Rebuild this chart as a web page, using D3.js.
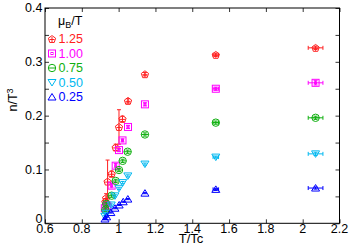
<!DOCTYPE html>
<html>
<head>
<meta charset="utf-8">
<script src="https://cdn.jsdelivr.net/npm/d3@7"></script>
<style>
  body { margin: 0; background: #fff; }
  text { font-family: "Liberation Sans", Arial, sans-serif; }
</style>
</head>
<body>
<div id="chart"></div>
<script>
// data
const muLabels = ["1.25", "1.00", "0.75", "0.50", "0.25"];
const xTicks = [0.6, 0.8, 1, 1.2, 1.4, 1.6, 1.8, 2, 2.2];
const yTicks = [0, 0.1, 0.2, 0.3, 0.4];

const tRed = [0.928, 0.932, 0.94, 0.962, 0.984, 1.002, 1.021, 1.051, 1.143, 1.528, 2.07];
const nRed = [0.040, 0.047, 0.0775, 0.092, 0.141, 0.179, 0.194, 0.2275, 0.277, 0.313, 0.326];
const eRed = [0.006, 0.008, 0.040, 0.005, 0.006, 0.032, 0.005, 0.004, 0.003, 0.003, 0.003];

const tMag = [0.925, 0.935, 0.94, 0.962, 0.984, 1.002, 1.021, 1.051, 1.143, 1.528, 2.07];
const nMag = [0.028, 0.033, 0.031, 0.070, 0.107, 0.136, 0.154, 0.179, 0.221, 0.250, 0.261];
const eMag = [0.003, 0.003, 0.004, 0.004, 0.004, 0.003, 0.003, 0.003, 0.003, 0.003, 0.004];

const tGrn = [0.928, 0.933, 0.962, 0.984, 1.002, 1.022, 1.049, 1.143, 1.528, 2.07];
const nGrn = [0.025, 0.036, 0.0513, 0.0787, 0.099, 0.116, 0.133, 0.165, 0.187, 0.196];
const eGrn = [0.003, 0.003, 0.003, 0.003, 0.003, 0.003, 0.003, 0.003, 0.003, 0.003];

const tCyn = [0.925, 0.933, 0.96, 0.98, 1.002, 1.022, 1.05, 1.143, 1.528, 2.07];
const nCyn = [0.013, 0.0186, 0.034, 0.051, 0.065, 0.0756, 0.088, 0.110, 0.123, 0.129];
const eCyn = [0.002, 0.002, 0.002, 0.002, 0.002, 0.002, 0.002, 0.002, 0.002, 0.003];

const tBlu = [0.926, 0.935, 0.958, 0.98, 1.003, 1.025, 1.05, 1.143, 1.528, 2.07];
const nBlu = [0.008, 0.012, 0.020, 0.028, 0.034, 0.040, 0.045, 0.056, 0.063, 0.0655];
const eBlu = [0.001, 0.001, 0.001, 0.001, 0.001, 0.001, 0.001, 0.001, 0.002, 0.002];

// horizontal error on the two high-T points
const tErrHigh = { 1.528: 0.015, 2.07: 0.04 };

const series = [
    { t: tRed, n: nRed, e: eRed, color: "#ff2020", shape: "pent" },
    { t: tMag, n: nMag, e: eMag, color: "#ff00ff", shape: "square" },
    { t: tGrn, n: nGrn, e: eGrn, color: "#10b010", shape: "circle" },
    { t: tCyn, n: nCyn, e: eCyn, color: "#00b8f0", shape: "down" },
    { t: tBlu, n: nBlu, e: eBlu, color: "#0000ff", shape: "up" }
];

let width = 350, height = 250;
let margin = { top: 8, right: 10.5, bottom: 26.7, left: 45 };

let svg = d3.select("#chart").append("svg")
    .attr("width", width)
    .attr("height", height);

let x = d3.scaleLinear().domain([0.6, 2.2]).range([margin.left, width - margin.right]);
let y = d3.scaleLinear().domain([0, 0.4]).range([height - margin.bottom, margin.top]);

// ticks, all pointing inward
let minorY = d3.range(0, 0.401, 0.05);
svg.append("g").attr("transform", "translate(" + margin.left + ",0)")
    .call(d3.axisRight(y).tickValues(minorY).tickSize(4).tickFormat(""));
svg.append("g").attr("transform", "translate(" + (width - margin.right) + ",0)")
    .call(d3.axisLeft(y).tickValues(minorY).tickSize(4).tickFormat(""));
svg.append("g").attr("transform", "translate(0," + margin.top + ")")
    .call(d3.axisBottom(x).tickValues(xTicks).tickSize(4).tickFormat(""));
svg.append("g").attr("transform", "translate(0," + (height - margin.bottom) + ")")
    .call(d3.axisTop(x).tickValues(xTicks).tickSize(4).tickFormat(""));
svg.selectAll(".domain").remove();
svg.selectAll(".tick line").attr("stroke", "#000").attr("stroke-width", 0.8);

svg.append("rect")
    .attr("x", margin.left).attr("y", margin.top)
    .attr("width", width - margin.left - margin.right)
    .attr("height", height - margin.top - margin.bottom)
    .attr("fill", "none").attr("stroke", "#000").attr("stroke-width", 1);

// tick labels
svg.append("g").selectAll("text")
    .data(xTicks)
    .enter().append("text")
    .attr("x", d => x(d))
    .attr("y", height - margin.bottom + 9.5)
    .attr("text-anchor", "middle")
    .style("font-size", "12.5px")
    .text(d => d);

svg.append("g").selectAll("text")
    .data(yTicks)
    .enter().append("text")
    .attr("x", margin.left - 2.5)
    .attr("y", d => y(d))
    .attr("dy", d => d === 0 ? "-0.05em" : "0.35em")
    .attr("text-anchor", "end")
    .style("font-size", "12.5px")
    .text(d => d);

svg.append("text")
    .attr("x", 191).attr("y", 242.5)
    .attr("text-anchor", "middle")
    .style("font-size", "13px")
    .text("T/Tc");

let yl = svg.append("text")
    .attr("transform", "translate(17,100) rotate(-90)")
    .attr("text-anchor", "middle")
    .style("font-size", "12.5px");
yl.append("tspan").text("n/T");
yl.append("tspan").attr("dy", -4).style("font-size", "9px").text("3");

function marker(g, shape, color) {
    g.attr("fill", "none").attr("stroke", color).attr("stroke-width", 1);
    if (shape === "pent") {
        let pts = d3.range(5).map(i => {
            let a = -Math.PI / 2 + i * 2 * Math.PI / 5;
            return [3.8 * Math.cos(a), 3.8 * Math.sin(a) + 0.4];
        });
        g.append("path").attr("d", "M" + pts.join("L") + "Z");
        g.append("path").attr("d", "M-2.5,0.5H2.5M0,-2V3");
    } else if (shape === "square") {
        g.append("rect").attr("x", -3.5).attr("y", -3.5).attr("width", 7).attr("height", 7);
        g.append("rect").attr("x", -1).attr("y", -1).attr("width", 2).attr("height", 2);
    } else if (shape === "circle") {
        g.append("circle").attr("r", 3.7);
        g.append("path").attr("d", "M-3.7,0H3.7");
    } else if (shape === "down") {
        g.append("path").attr("d", "M-4,-3L4,-3L0,3.5Z");
    } else {
        g.append("path").attr("d", "M-4,3L4,3L0,-3.5Z");
    }
}

series.forEach(function (s) {
    let pts = s.t.map((t, i) => ({ t: t, n: s.n[i], e: s.e[i] }));
    let g = svg.append("g");

    g.selectAll(".ey").data(pts).enter().append("path")
        .attr("stroke", s.color).attr("fill", "none").attr("stroke-width", 1)
        .attr("d", d => {
            let x0 = x(d.t), y1 = y(d.n + d.e), y2 = y(d.n - d.e);
            return "M" + x0 + "," + y1 + "V" + y2 +
                "M" + (x0 - 2) + "," + y1 + "H" + (x0 + 2) +
                "M" + (x0 - 2) + "," + y2 + "H" + (x0 + 2);
        });

    g.selectAll(".ex").data(pts.filter(d => tErrHigh[d.t])).enter().append("path")
        .attr("stroke", s.color).attr("fill", "none").attr("stroke-width", 1)
        .attr("d", d => {
            let x1 = x(d.t - tErrHigh[d.t]), x2 = x(d.t + tErrHigh[d.t]), y0 = y(d.n);
            return "M" + x1 + "," + y0 + "H" + x2 +
                "M" + x1 + "," + (y0 - 2) + "V" + (y0 + 2) +
                "M" + x2 + "," + (y0 - 2) + "V" + (y0 + 2);
        });

    g.selectAll(".m").data(pts).enter().append("g")
        .attr("transform", d => "translate(" + x(d.t) + "," + y(d.n) + ")")
        .each(function () { marker(d3.select(this), s.shape, s.color); });
});

// legend
let title = svg.append("text").attr("x", 58).attr("y", 25).style("font-size", "12.5px");
title.append("tspan").text("\u03bc");
title.append("tspan").attr("dy", 3).style("font-size", "9px").text("B");
title.append("tspan").attr("dy", -3).text("/T");

let legend = svg.selectAll(".legend")
    .data(series)
    .enter().append("g")
    .attr("class", "legend")
    .attr("transform", (d, i) => "translate(52," + (39 + i * 14.5) + ")");

legend.append("g").each(function (d) { marker(d3.select(this), d.shape, d.color); });

legend.append("text")
    .attr("x", 6.5)
    .attr("dy", "0.35em")
    .attr("fill", d => d.color)
    .style("font-size", "12.5px")
    .text((d, i) => muLabels[i]);
</script>
</body>
</html>
